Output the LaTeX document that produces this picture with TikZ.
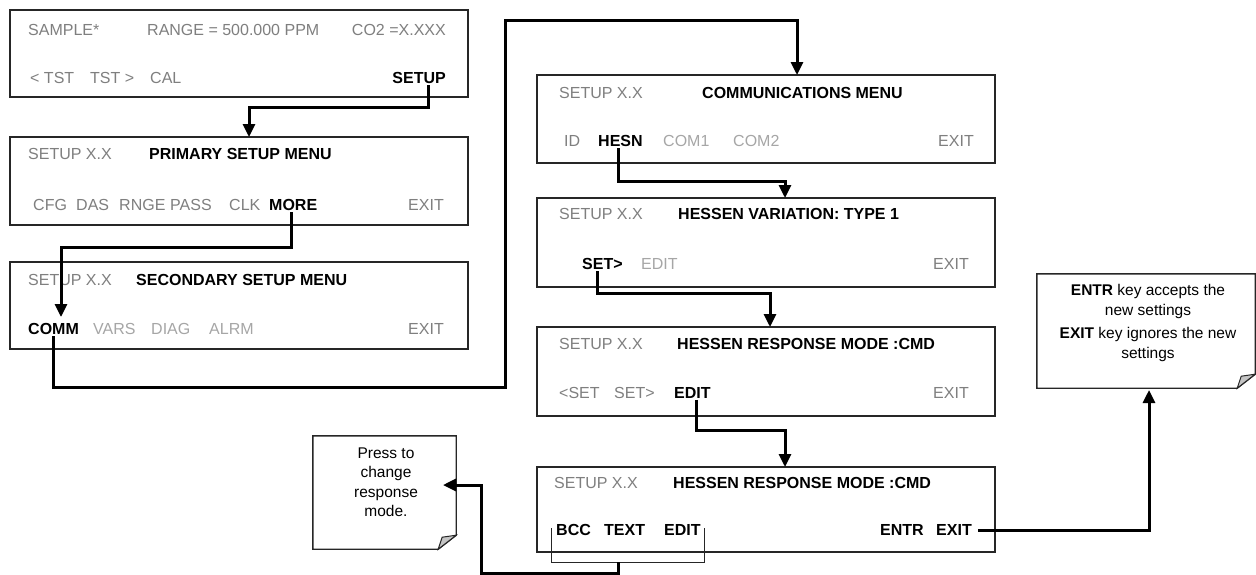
\documentclass[tikz,border=0pt]{standalone}
\usepackage{fontspec}
\setmainfont{Liberation Sans}
\usetikzlibrary{arrows.meta,calc}
\definecolor{gtext}{HTML}{7F7F7F}
\definecolor{ltext}{HTML}{A6A6A6}
\definecolor{boxline}{HTML}{262626}
\definecolor{foldgray}{HTML}{C4C4C4}
\begin{document}
\begin{tikzpicture}[x=1pt,y=-1pt,
  menubox/.style={draw=boxline, line width=1.4pt, fill=white, inner sep=0pt, minimum width=458pt},
  mt/.style={inner sep=1pt, anchor=base west, font=\fontsize{16}{19}\selectfont, text=gtext},
  mr/.style={mt, anchor=base east},
  lt/.style={text=ltext},
  bt/.style={text=black, font=\fontsize{16}{19}\selectfont\bfseries},
  conn/.style={line width=3pt, -{Triangle[length=13pt,width=12pt]}},
  connplain/.style={line width=3pt},
  brk/.style={line width=1pt, draw=boxline},
  notebox/.style={inner sep=0pt},
  notetext/.style={align=center, inner sep=0pt, font=\fontsize{15.5}{19.5}\selectfont},
  noteline/.style={draw=boxline, line width=1.4pt, fill=white},
  fold/.style={draw=boxline, line width=1pt, fill=foldgray}
]
\useasboundingbox (0,0) rectangle (1256,574);
\fill[white] (0,0) rectangle (1256,574);

% ---------- menu boxes ----------
\node[menubox, minimum height=87pt] (b1) at (239,53.5) {};
\node[menubox, minimum height=88pt] (b2) at (239,181) {};
\node[menubox, minimum height=87pt] (b3) at (239,305.5) {};
\node[menubox, minimum height=88pt] (b4) at (766,119) {};
\node[menubox, minimum height=89pt] (b5) at (766,242.5) {};
\node[menubox, minimum height=89pt] (b6) at (766,371.5) {};
\node[menubox, minimum height=85pt] (b7) at (766,509.5) {};

% ---------- box 1 ----------
\node[mt] (k-sample) at (27,35.7) {SAMPLE*};
\node[mt] (k-range) at (146,35.7) {RANGE = 500.000 PPM};
\node[mr] (k-co2) at (447,35.7) {CO2 =X.XXX};
\node[mt] (k-tstl) at (29,83.7) {< TST};
\node[mt] (k-tstr) at (89,83.7) {TST >};
\node[mt] (k-cal) at (149,83.7) {CAL};
\node[mr, bt] (k-setup) at (447,83.7) {SETUP};

% ---------- box 2 ----------
\node[mt] (k-s2) at (27,159.7) {SETUP X.X};
\node[mt, bt] (k-prim) at (148,159.7) {PRIMARY SETUP MENU};
\node[mt] (k-cfg) at (32,210.7) {CFG};
\node[mt] (k-das) at (75,210.7) {DAS};
\node[mt] (k-rnge) at (118,210.7) {RNGE};
\node[mt] (k-pass) at (169,210.7) {PASS};
\node[mt] (k-clk) at (228,210.7) {CLK};
\node[mt, bt] (k-more) at (268,210.7) {MORE};
\node[mr] (k-exit2) at (445,210.7) {EXIT};

% ---------- box 3 ----------
\node[mt] (k-s3) at (27,285.7) {SETUP X.X};
\node[mt, bt] (k-sec) at (135,285.7) {SECONDARY SETUP MENU};
\node[mt, bt] (k-comm) at (27,334.7) {COMM};
\node[mt, lt] (k-vars) at (92,334.7) {VARS};
\node[mt, lt] (k-diag) at (150,334.7) {DIAG};
\node[mt, lt] (k-alrm) at (208,334.7) {ALRM};
\node[mr] (k-exit3) at (445,334.7) {EXIT};

% ---------- box 4 ----------
\node[mt] (k-s4) at (558,98.7) {SETUP X.X};
\node[mt, bt] (k-commmenu) at (701,98.7) {COMMUNICATIONS MENU};
\node[mt] (k-id) at (563,146.7) {ID};
\node[mt, bt] (k-hesn) at (597,146.7) {HESN};
\node[mt, lt] (k-com1) at (662,146.7) {COM1};
\node[mt, lt] (k-com2) at (732,146.7) {COM2};
\node[mr] (k-exit4) at (975,146.7) {EXIT};

% ---------- box 5 ----------
\node[mt] (k-s5) at (558,219.7) {SETUP X.X};
\node[mt, bt] (k-hvar) at (677,219.7) {HESSEN VARIATION: TYPE 1};
\node[mt, bt] (k-set5) at (581,269.7) {SET>};
\node[mt, lt] (k-edit5) at (640,269.7) {EDIT};
\node[mr] (k-exit5) at (970,269.7) {EXIT};

% ---------- box 6 ----------
\node[mt] (k-s6) at (558,349.7) {SETUP X.X};
\node[mt, bt] (k-hrm6) at (676,349.7) {HESSEN RESPONSE MODE :CMD};
\node[mt] (k-lset6) at (558,398.7) {<SET};
\node[mt] (k-rset6) at (613,398.7) {SET>};
\node[mt, bt] (k-edit6) at (673,398.7) {EDIT};
\node[mr] (k-exit6) at (970,398.7) {EXIT};

% ---------- box 7 ----------
\node[mt] (k-s7) at (553,488.7) {SETUP X.X};
\node[mt, bt] (k-hrm7) at (672,488.7) {HESSEN RESPONSE MODE :CMD};
\node[mt, bt] (k-bcc) at (555,535.7) {BCC};
\node[mt, bt] (k-text) at (603,535.7) {TEXT};
\node[mt, bt] (k-edit7) at (663,535.7) {EDIT};
\node[mt, bt] (k-entr) at (879,535.7) {ENTR};
\node[mr, bt] (k-exit7) at (973,535.7) {EXIT};

% ---------- notes ----------
\node[notebox, minimum width=143pt, minimum height=113pt] (n1) at (384.5,492.5) {};
\draw[noteline] (n1.north west) -- (n1.north east) -- ($(n1.south east)+(0,-14)$)
   -- ($(n1.south east)+(-18,0)$) -- (n1.south west) -- cycle;
\draw[fold] ($(n1.south east)+(0,-14)$) -- ($(n1.south east)+(-18,0)$) -- ($(n1.south east)+(-14,-12)$) -- cycle;
\node[notetext] (n1t) at (386,482) {Press to\\change\\response\\mode.};

\node[notebox, minimum width=218pt, minimum height=114pt] (n2) at (1146,331) {};
\draw[noteline] (n2.north west) -- (n2.north east) -- ($(n2.south east)+(0,-14)$)
   -- ($(n2.south east)+(-18,0)$) -- (n2.south west) -- cycle;
\draw[fold] ($(n2.south east)+(0,-14)$) -- ($(n2.south east)+(-18,0)$) -- ($(n2.south east)+(-14,-12)$) -- cycle;
\node[notetext] (n2t) at (1148,323) {\textbf{ENTR} key accepts the\\new settings\\[4pt]\textbf{EXIT} key ignores the new\\settings};

% ---------- connector coordinates ----------
\coordinate (m1) at (249,107);
\coordinate (t1) at (249,137);
\coordinate (m2) at (61,247);
\coordinate (t2) at (61,317);
\coordinate (m3a) at (505,387);
\coordinate (m3b) at (797,20);
\coordinate (t3) at (797,75);
\coordinate (m4) at (785,181);
\coordinate (t4) at (785,198);
\coordinate (m5) at (770,293);
\coordinate (t5) at (770,327);
\coordinate (m6) at (785,430);
\coordinate (t6) at (785,467);
\coordinate (t7) at (1149,390);
\coordinate (br-l) at (551,528);
\coordinate (br-r) at (704,528);
\coordinate (br-m) at (618,562);
\coordinate (m8) at (481,485);
\coordinate (t8) at (443,485);

% ---------- connectors ----------
\draw[conn] ($(k-setup.south)+(9,0)$) |- (m1) -- (t1);
\draw[conn] ($(k-more.south)+(-2,0)$) |- (m2) -- (t2);
\draw[conn] (k-comm.south) |- (m3a) |- (m3b) -- (t3);
\draw[conn] ($(k-hesn.south)+(-2,0)$) |- (m4) -- (t4);
\draw[conn] ($(k-set5.south west)+(16,0)$) |- (m5) -- (t5);
\draw[conn] ($(k-edit6.south)+(4,0)$) |- (m6) -- (t6);
\draw[conn] ($(k-exit7.east)+(5,0)$) -| (t7);
\draw[brk] (br-l) -- ++(0,34) -| (br-r);
\draw[conn] (br-m) -- ++(0,11) -| (m8) -- (t8);
\end{tikzpicture}
\end{document}
